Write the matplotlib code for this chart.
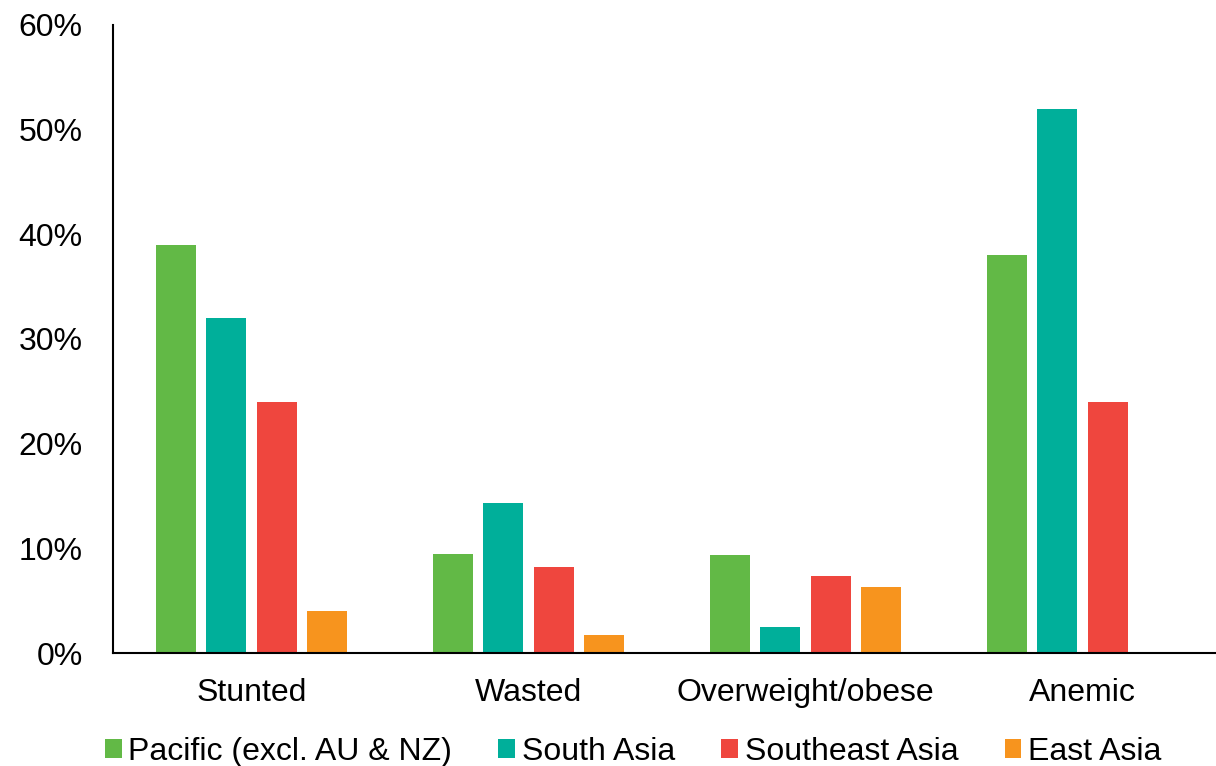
import matplotlib
matplotlib.use("Agg")
import matplotlib.pyplot as plt
import numpy as np
from matplotlib.ticker import FuncFormatter, MultipleLocator

plt.rcParams['font.family'] = ['Liberation Sans', 'DejaVu Sans']

categories = ["Stunted", "Wasted", "Overweight/obese", "Anemic"]
regions = ["Pacific (excl. AU & NZ)", "South Asia", "Southeast Asia", "East Asia"]
colors = ["#62B946", "#00AF9A", "#EF463E", "#F7941E"]

pacific = [39.0, 9.5, 9.4, 38.0]
south_asia = [32.0, 14.3, 2.5, 52.0]
southeast_asia = [24.0, 8.2, 7.4, 24.0]
east_asia = [4.0, 1.7, 6.3, np.nan]

series = [pacific, south_asia, southeast_asia, east_asia]

fig = plt.figure(figsize=(12.16, 7.66), dpi=100)
ax = fig.add_axes([0.093, 0.1475, 0.911, 0.82])

x = np.arange(len(categories))
pitch = 0.182
width = 0.145
for i, (vals, name, c) in enumerate(zip(series, regions, colors)):
    ax.bar(x + (i - 1.5) * pitch, vals, width, color=c, label=name)

ax.set_xlim(-0.5, len(categories) - 0.5)
ax.set_ylim(0, 60)
ax.yaxis.set_major_locator(MultipleLocator(10))
ax.yaxis.set_major_formatter(FuncFormatter(lambda v, p: f"{v:.0f}%"))
ax.set_xticks(x)
ax.set_xticklabels(categories)
ax.tick_params(axis='both', length=0, labelsize=23, colors='black')
ax.tick_params(axis='x', pad=18)
ax.tick_params(axis='y', pad=22)
for s in ["top", "right"]:
    ax.spines[s].set_visible(False)
ax.spines["left"].set_linewidth(1.5)
ax.spines["bottom"].set_linewidth(1.5)

fig.legend(loc="center", bbox_to_anchor=(0.5206, 0.018), ncol=4, frameon=False,
           fontsize=23, handlelength=0.53, handleheight=0.53, handletextpad=0.2,
           columnspacing=1.45, borderpad=0)

fig.savefig("out.png", dpi=100)
